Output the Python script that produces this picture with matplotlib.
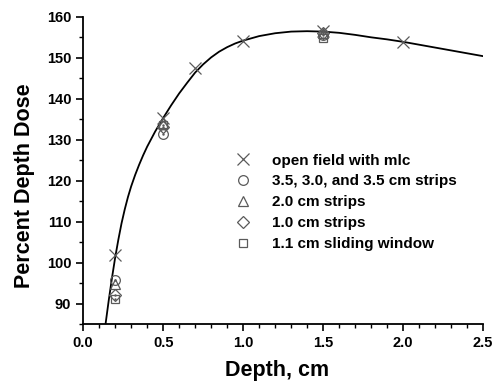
import numpy as np
import matplotlib
matplotlib.use("Agg")
import matplotlib.pyplot as plt
from matplotlib.ticker import MultipleLocator, FormatStrFormatter

plt.rcParams['font.family'] = ['Liberation Sans', 'DejaVu Sans']
plt.rcParams['font.weight'] = 'bold'

# fitted curve
curve_x = [0.14, 0.16, 0.18, 0.2, 0.22, 0.24, 0.26, 0.28, 0.3, 0.325, 0.35, 0.375,
           0.4, 0.45, 0.5, 0.55, 0.6, 0.65, 0.7, 0.75, 0.8, 0.85, 0.9, 0.95, 1.0,
           1.1, 1.2, 1.3, 1.4, 1.5, 1.6, 1.7, 1.8, 1.9, 2.0, 2.1, 2.2, 2.3, 2.4, 2.5]
curve_y = [85.0, 90.8, 96.2, 101.2, 105.6, 109.6, 113.0, 116.0, 118.6, 121.4, 123.9, 126.2,
           128.3, 132.0, 135.3, 138.4, 141.3, 143.9, 146.4, 148.4, 150.1, 151.5, 152.6, 153.5, 154.2,
           155.3, 156.0, 156.4, 156.5, 156.4, 156.1, 155.6, 155.0, 154.5, 153.9,
           153.2, 152.5, 151.8, 151.1, 150.4]

# measured points
open_x = [0.2, 0.5, 0.7, 1.0, 1.5, 2.0]
open_y = [101.8, 135.3, 147.5, 154.2, 156.6, 153.9]
strip35_x = [0.2, 0.5, 1.5]
strip35_y = [95.7, 131.4, 155.6]
strip20_x = [0.2, 0.5, 1.5]
strip20_y = [94.8, 134.0, 156.1]
strip10_x = [0.2, 0.5, 1.5]
strip10_y = [92.0, 133.2, 156.0]
sw11_x = [0.2, 0.5, 1.5]
sw11_y = [91.2, 133.6, 154.8]

series = [
    (open_x, open_y, 'x', 9, "open field with mlc", False),
    (strip35_x, strip35_y, 'o', 7, "3.5, 3.0, and 3.5 cm strips", True),
    (strip20_x, strip20_y, '^', 7.5, "2.0 cm strips", False),
    (strip10_x, strip10_y, 'D', 6, "1.0 cm strips", True),
    (sw11_x, sw11_y, 's', 6, "1.1 cm sliding window", True),
]

fig = plt.figure(figsize=(4.92, 3.83), dpi=100)
ax = fig.add_axes([0.169, 0.154, 0.813, 0.802])

ax.plot(curve_x, curve_y, color='black', lw=1.3, zorder=2)

gray = '#5a5a5a'
for xs, ys, m, ms, lab, dot in series:
    ax.plot(xs, ys, linestyle='none', marker=m, ms=ms, mfc='none', mec=gray,
            mew=0.9, label=lab, zorder=3)
    if dot:
        ax.plot(xs, ys, linestyle='none', marker='.', ms=1.5, color=gray, zorder=3)

ax.set_xlim(0, 2.5)
ax.set_ylim(85, 160)
ax.xaxis.set_major_locator(MultipleLocator(0.5))
ax.xaxis.set_minor_locator(MultipleLocator(0.1))
ax.xaxis.set_major_formatter(FormatStrFormatter('%.1f'))
ax.yaxis.set_major_locator(MultipleLocator(10))
ax.yaxis.set_minor_locator(MultipleLocator(5))

ax.spines['top'].set_visible(False)
ax.spines['right'].set_visible(False)
ax.spines['left'].set_linewidth(1.3)
ax.spines['bottom'].set_linewidth(1.3)
ax.tick_params(which='major', direction='out', length=5, width=1.2, labelsize=10.5)
ax.tick_params(which='minor', direction='out', length=3, width=1.0)

ax.set_xlabel("Depth, cm", fontsize=15.5, fontweight='bold')
ax.set_ylabel("Percent Depth Dose", fontsize=15.5, fontweight='bold')
ax.xaxis.set_label_coords(0.485, -0.118)
ax.yaxis.set_label_coords(-0.12, 0.45)

ax.legend(loc='upper left', bbox_to_anchor=(0.365, 0.575), frameon=False,
          fontsize=11, handlelength=1.0, handletextpad=1.4, labelspacing=0.45,
          borderaxespad=0)

fig.savefig("out.png", dpi=100)
